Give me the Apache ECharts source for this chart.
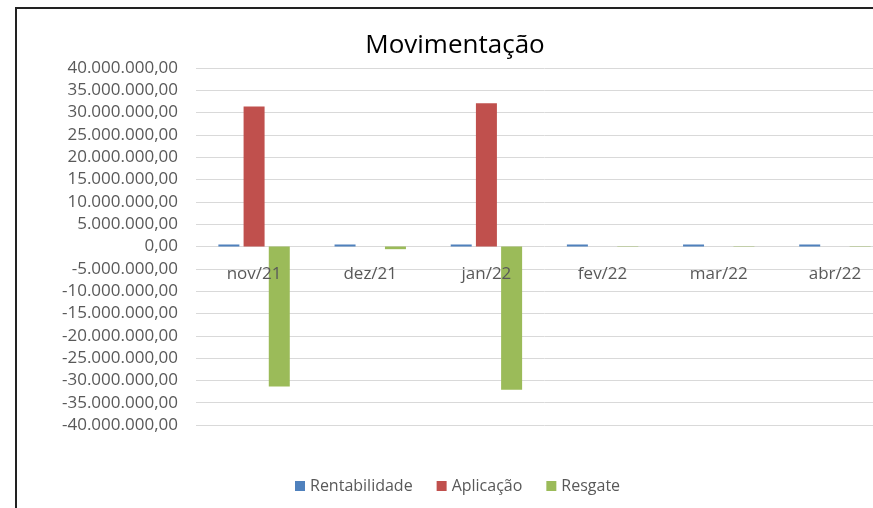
<!DOCTYPE html>
<html>
<head>
<meta charset="utf-8">
<script src="https://cdn.jsdelivr.net/npm/echarts@6/dist/echarts.min.js"></script>
<style>
html,body{margin:0;padding:0;background:#fff;overflow:hidden;width:873px;height:508px;}
#wrap{position:absolute;left:0;top:0;width:873px;height:508px;overflow:hidden;}
#frame{position:absolute;left:15px;top:7px;width:900px;height:520px;border-left:2px solid #222;border-top:2px solid #222;box-sizing:border-box;}
#c{position:absolute;left:0;top:0;width:910px;height:508px;}
</style>
</head>
<body>
<div id="wrap">
<div id="frame"></div>
<div id="c"></div>
</div>
<script>
const categories = ['nov/21','dez/21','jan/22','fev/22','mar/22','abr/22'];
const rentabilidade = [450000, 450000, 450000, 450000, 450000, 450000];
const aplicacao = [31400000, 0, 32100000, 0, 0, 0];
const resgate = [-31400000, -600000, -32100000, -80000, -80000, -80000];
const yTicks = {min: -40000000, max: 40000000, interval: 5000000};

function fmt(v){
  const neg = v < 0;
  let s = Math.abs(Math.round(v)).toString().replace(/\B(?=(\d{3})+(?!\d))/g, '.');
  return (neg ? '-' : '') + s + ',00';
}

const chart = echarts.init(document.getElementById('c'), null, {renderer:'canvas'});
const font = 'Open Sans';
chart.setOption({
  animation:false,
  backgroundColor:'transparent',
  title:{text:'Movimentação', left:450, top:28, textAlign:'center',
    textStyle:{fontFamily:font, fontSize:26, fontWeight:'normal', color:'#000'}},
  legend:{bottom:9, left:290, itemWidth:10, itemHeight:10, itemGap:24, icon:'rect',
    textStyle:{fontFamily:font, fontSize:16, color:'#595959'},
    data:['Rentabilidade','Aplicação','Resgate']},
  grid:{left:196, top:68, width:697, bottom:83, containLabel:false},
  xAxis:{type:'category', data:categories, offset:-179, z:5,
    axisLine:{show:false},
    axisTick:{show:false},
    axisLabel:{fontFamily:font, fontSize:17, color:'#595959', margin:20}},
  yAxis:{type:'value', min:yTicks.min, max:yTicks.max, interval:yTicks.interval,
    axisLine:{show:false}, axisTick:{show:false},
    splitLine:{lineStyle:{color:'#d9d9d9', width:1}},
    axisLabel:{fontFamily:font, fontSize:17, color:'#595959', margin:18, formatter:fmt}},
  series:[
    {name:'Rentabilidade', type:'bar', data:rentabilidade, barWidth:21, barGap:'20%', itemStyle:{color:'#4f81bd'}},
    {name:'Aplicação', type:'bar', data:aplicacao, barWidth:21, barGap:'20%', itemStyle:{color:'#c0504d'}},
    {name:'Resgate', type:'bar', data:resgate, barWidth:21, barGap:'20%', itemStyle:{color:'#9bbb59'}}
  ]
});
</script>
</body>
</html>
